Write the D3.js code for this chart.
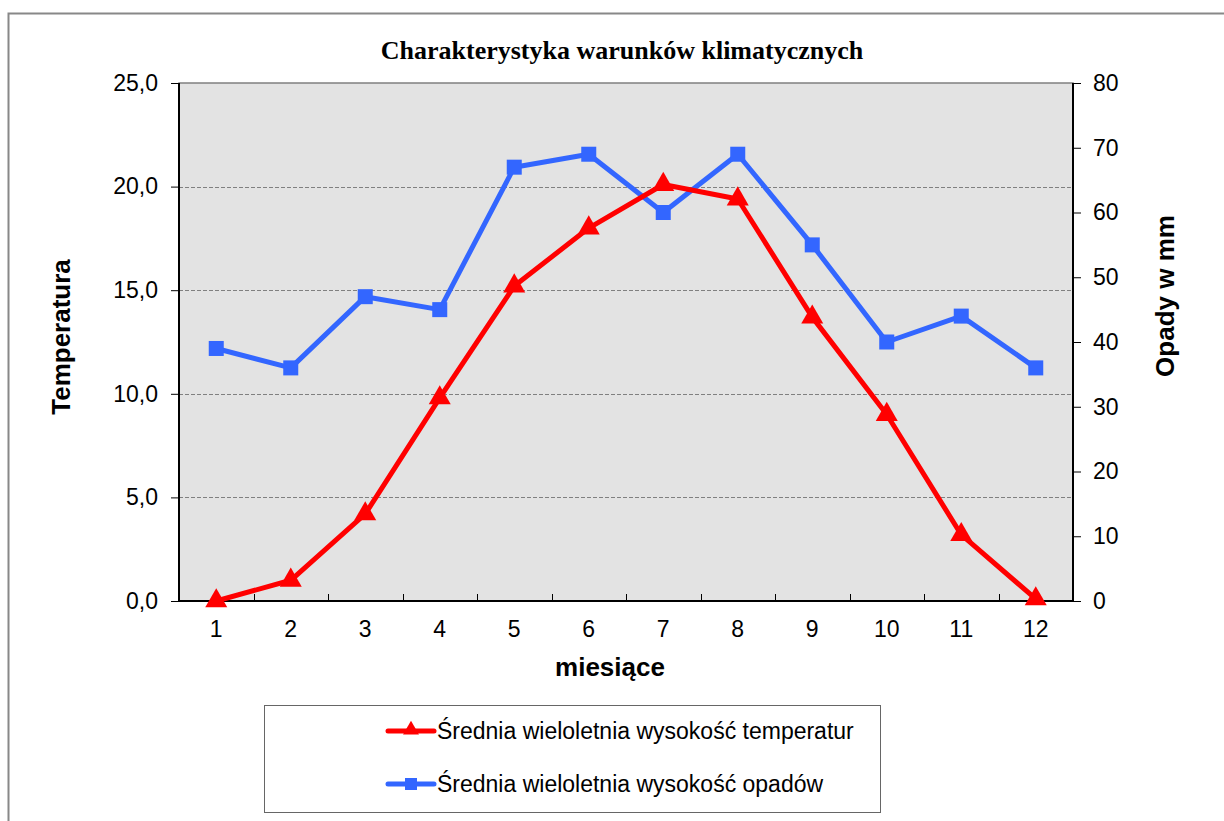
<!DOCTYPE html>
<html>
<head>
<meta charset="utf-8">
<script src="https://cdn.jsdelivr.net/npm/d3@7"></script>
<style>
  body { margin: 0; background: #fff; }
  text { font-family: Arial, "Liberation Sans", sans-serif; }
</style>
</head>
<body>
<div id="container"></div>
<script>
var width = 1224;
var height = 821;

// data
var months = ["1", "2", "3", "4", "5", "6", "7", "8", "9", "10", "11", "12"];
var temperature = [0.0, 1.0, 4.2, 9.8, 15.2, 18.0, 20.1, 19.4, 13.7, 9.0, 3.2, 0.1];
var precipitation = [39, 36, 47, 45, 67, 69, 60, 69, 55, 40, 44, 36];
var tempTicks = [0, 5, 10, 15, 20, 25];
var precTicks = [0, 10, 20, 30, 40, 50, 60, 70, 80];
var seriesNames = ["Średnia wieloletnia wysokość temperatur", "Średnia wieloletnia wysokość opadów"];

var plot = { left: 179, top: 83, right: 1073, bottom: 601 };

var svg = d3.select("#container")
  .append("svg")
  .attr("width", width)
  .attr("height", height);

// outer chart frame
svg.append("rect")
  .attr("x", 8.5).attr("y", 13.5)
  .attr("width", 1240).attr("height", 900)
  .attr("fill", "#fff")
  .attr("stroke", "#888")
  .attr("stroke-width", 2);

var x = d3.scaleBand()
  .domain(months)
  .range([plot.left, plot.right]);

var yT = d3.scaleLinear()
  .domain([0, 25])
  .range([plot.bottom, plot.top]);

var yP = d3.scaleLinear()
  .domain([0, 80])
  .range([plot.bottom, plot.top]);

// plot background
svg.append("rect")
  .attr("x", plot.left).attr("y", plot.top)
  .attr("width", plot.right - plot.left)
  .attr("height", plot.bottom - plot.top)
  .attr("fill", "#e3e3e3")
  .attr("stroke", "#808080")
  .attr("stroke-width", 1.5);

// grid
svg.append("g")
  .selectAll("line")
  .data(tempTicks.filter(function(d) { return d > 0 && d < 25; }))
  .enter().append("line")
  .attr("x1", plot.left).attr("x2", plot.right)
  .attr("y1", function(d) { return Math.round(yT(d)) + 0.5; })
  .attr("y2", function(d) { return Math.round(yT(d)) + 0.5; })
  .attr("stroke", "#808080")
  .attr("stroke-dasharray", "4,2");

// left axis
var gl = svg.append("g")
  .attr("transform", "translate(" + plot.left + ",0)")
  .call(d3.axisLeft(yT).tickValues(tempTicks).tickSize(8).tickPadding(13)
    .tickFormat(function(d) { return d3.format(".1f")(d).replace(".", ","); }));

// right axis
var gr = svg.append("g")
  .attr("transform", "translate(" + plot.right + ",0)")
  .call(d3.axisRight(yP).tickValues(precTicks).tickSize(8).tickPadding(12));

// bottom axis
var gb = svg.append("g")
  .attr("transform", "translate(0," + plot.bottom + ")")
  .call(d3.axisBottom(x).tickSize(0).tickPadding(20));

// category separator ticks
svg.append("g")
  .selectAll("line")
  .data(months.slice(1))
  .enter().append("line")
  .attr("x1", function(d) { return Math.round(x(d)) + 0.5; })
  .attr("x2", function(d) { return Math.round(x(d)) + 0.5; })
  .attr("y1", plot.bottom - 7)
  .attr("y2", plot.bottom)
  .attr("stroke", "#000");

[gl, gr, gb].forEach(function(g) {
  g.select(".domain").attr("stroke", "#000").attr("stroke-width", 2);
  g.selectAll(".tick line").attr("stroke", "#000");
  g.selectAll("text").style("font-size", "23px").attr("fill", "#000")
    .style("font-family", "Arial, 'Liberation Sans', sans-serif");
});
gb.select(".domain").attr("d", "M" + plot.left + ",0H" + plot.right);
gl.select(".domain").attr("d", "M0," + plot.top + "V" + plot.bottom);
gr.select(".domain").attr("d", "M0," + plot.top + "V" + plot.bottom);

// lines
var lineT = d3.line()
  .x(function(d, i) { return x(months[i]) + x.bandwidth() / 2; })
  .y(function(d) { return yT(d); });

var lineP = d3.line()
  .x(function(d, i) { return x(months[i]) + x.bandwidth() / 2; })
  .y(function(d) { return yP(d); });

svg.append("path")
  .datum(precipitation)
  .attr("d", lineP)
  .attr("fill", "none")
  .attr("stroke", "#3366ff")
  .attr("stroke-width", 5)
  .attr("stroke-linejoin", "round");

svg.append("path")
  .datum(temperature)
  .attr("d", lineT)
  .attr("fill", "none")
  .attr("stroke", "#ff0000")
  .attr("stroke-width", 5)
  .attr("stroke-linejoin", "round");

var tri = d3.symbol().type(d3.symbolTriangle).size(210);

svg.append("g")
  .selectAll("rect")
  .data(precipitation)
  .enter().append("rect")
  .attr("x", function(d, i) { return x(months[i]) + x.bandwidth() / 2 - 7.5; })
  .attr("y", function(d) { return yP(d) - 7.5; })
  .attr("width", 15).attr("height", 15)
  .attr("fill", "#3366ff");

svg.append("g")
  .selectAll("path")
  .data(temperature)
  .enter().append("path")
  .attr("d", tri)
  .attr("transform", function(d, i) {
    return "translate(" + (x(months[i]) + x.bandwidth() / 2) + "," + yT(d) + ")";
  })
  .attr("fill", "#ff0000");

// title and axis titles
svg.append("text")
  .attr("x", 622).attr("y", 59)
  .attr("text-anchor", "middle")
  .style("font-family", "'Times New Roman', 'Liberation Serif', serif")
  .style("font-weight", "bold")
  .style("font-size", "26px")
  .text("Charakterystyka warunków klimatycznych");

svg.append("text")
  .attr("transform", "translate(70,337)rotate(-90)")
  .attr("text-anchor", "middle")
  .style("font-weight", "bold")
  .style("font-size", "26px")
  .text("Temperatura");

svg.append("text")
  .attr("transform", "translate(1174,296)rotate(-90)")
  .attr("text-anchor", "middle")
  .style("font-weight", "bold")
  .style("font-size", "26px")
  .text("Opady w mm");

svg.append("text")
  .attr("x", 610).attr("y", 676)
  .attr("text-anchor", "middle")
  .style("font-weight", "bold")
  .style("font-size", "26px")
  .text("miesiące");

// legend
var legend = svg.append("g");
legend.append("rect")
  .attr("x", 264.5).attr("y", 705.5)
  .attr("width", 616).attr("height", 107)
  .attr("fill", "#fff")
  .attr("stroke", "#666")
  .attr("stroke-width", 1);

var colors = ["#ff0000", "#3366ff"];
var rows = legend.selectAll("g.item")
  .data(seriesNames)
  .enter().append("g")
  .attr("class", "item")
  .attr("transform", function(d, i) { return "translate(0," + (731 + i * 53) + ")"; });

rows.append("line")
  .attr("x1", 388).attr("x2", 434)
  .attr("y1", 0).attr("y2", 0)
  .attr("stroke", function(d, i) { return colors[i]; })
  .attr("stroke-width", 5)
  .attr("stroke-linecap", "round");

rows.each(function(d, i) {
  var g = d3.select(this);
  if (i === 0) {
    g.append("path").attr("d", d3.symbol().type(d3.symbolTriangle).size(110))
      .attr("transform", "translate(411,-1)")
      .attr("fill", colors[i]);
  } else {
    g.append("rect").attr("x", 405).attr("y", -6).attr("width", 12).attr("height", 12)
      .attr("fill", colors[i]);
  }
});

rows.append("text")
  .attr("x", 437).attr("y", 8)
  .style("font-size", "23px")
  .text(function(d) { return d; });
</script>
</body>
</html>
